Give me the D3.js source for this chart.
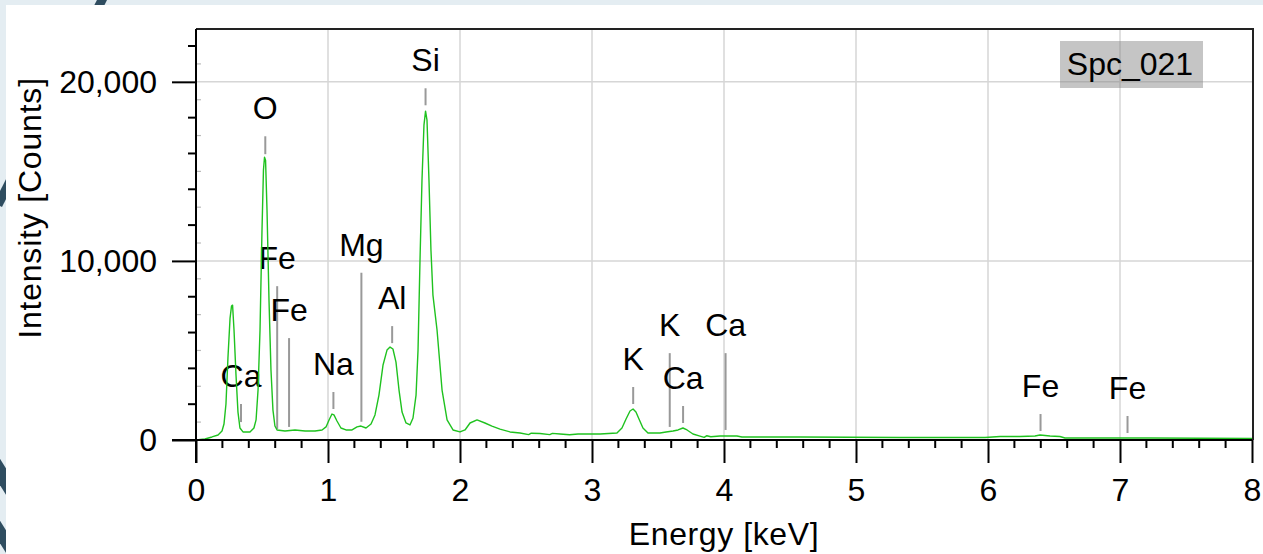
<!DOCTYPE html>
<html>
<head>
<meta charset="utf-8">
<script src="https://cdn.jsdelivr.net/npm/d3@7"></script>
<style>
  html, body { margin: 0; padding: 0; background: #e4edf2; }
  svg { display: block; }
  text { font-family: "Liberation Sans", Arial, Helvetica, sans-serif; fill: #000; }
</style>
</head>
<body>
<svg id="chart" width="1263" height="554"></svg>
<script>
// ---------------- data ----------------
const sampleName = "Spc_021";
const xTitle = "Energy [keV]";
const yTitle = "Intensity [Counts]";

const energy = [
  0.000, 0.068, 0.121, 0.167, 0.197, 0.212, 0.227, 0.242, 0.258, 0.269, 0.277, 0.288, 0.303, 0.318, 0.333, 0.356,
  0.409, 0.439, 0.455, 0.470, 0.485, 0.500, 0.511, 0.519, 0.527, 0.538, 0.553, 0.568, 0.583, 0.598, 0.614, 0.674,
  0.750, 0.826, 0.902, 0.955, 0.985, 1.008, 1.030, 1.045, 1.068, 1.098, 1.136, 1.182, 1.220, 1.250, 1.288, 1.326,
  1.356, 1.386, 1.417, 1.447, 1.470, 1.492, 1.515, 1.538, 1.561, 1.591, 1.621, 1.644, 1.667, 1.682, 1.697, 1.712,
  1.727, 1.739, 1.750, 1.765, 1.780, 1.795, 1.826, 1.864, 1.902, 1.947, 2.000, 2.038, 2.076, 2.129, 2.189, 2.242,
  2.303, 2.379, 2.455, 2.520, 2.540, 2.606, 2.680, 2.700, 2.758, 2.830, 2.894, 3.061, 3.189, 3.227, 3.258, 3.288,
  3.311, 3.333, 3.356, 3.386, 3.424, 3.515, 3.561, 3.614, 3.652, 3.689, 3.720, 3.765, 3.818, 3.850, 3.870, 3.900,
  3.970, 4.098, 4.136, 4.576, 5.333, 5.977, 6.091, 6.242, 6.356, 6.394, 6.470, 6.545, 6.583, 7.227, 8.000
];
const counts = [
     0,    55,   170,   280,   500,   890,  2010,  4580,  6810,  7480,  7530,  6140,  3630,  1560,   670,   450,
   450,   670,  1120,  2790,  6140, 11720, 15070, 15790, 15620, 12830,  7810,  3910,  1670,   780,   560,   500,
   560,   500,   500,   560,   730,  1120,  1450,  1400,  1060,   670,   560,   560,   730,   780,   670,   890,
  1400,  2510,  4190,  5020,  5190,  5080,  4350,  2790,  1560,   950,   840,  1230,  2510,  5020, 10040, 14510,
 17580, 18360, 17860, 14510, 10600,  8090,  6140,  2790,  1120,   560,   450,   560,   950,  1120,   950,   780,
   610,   450,   390,   300,   380,   360,   300,   370,   335,   290,   335,   335,   390,   670,  1170,  1620,
  1730,  1560,  1170,   670,   390,   390,   450,   500,   560,   670,   560,   335,   220,   150,   240,   180,
   220,   220,   170,   170,   140,   140,   195,   195,   225,   280,   225,   195,   110,   110,    85
];

// element markers
const peakEnergy = [0.341, 0.525, 0.615, 0.705, 1.041, 1.253, 1.486, 1.739, 3.312, 3.589, 3.690, 4.012, 6.398, 7.057];
const peakLabel  = ["Ca", "O", "Fe", "Fe", "Na", "Mg", "Al", "Si", "K", "K", "Ca", "Ca", "Fe", "Fe"];
const peakTop    = [2010, 16960, 8590, 5690, 2680, 9340, 6360, 19640, 2960, 4850, 1900, 4850, 1450, 1340];
const peakBottom = [1000, 15960,  610,  730, 1730, 1020, 5410, 18690, 2010,  730,  950,  560,  500,  390];

const xTickValues = [0, 1, 2, 3, 4, 5, 6, 7, 8];
const yTickValues = [0, 10000, 20000];
const xDomain = [0, 8];
const yDomain = [0, 22950];

// ---------------- drawing ----------------
(function () {
const svg = d3.select("#chart");
const W = 1263, H = 554;
const pLeft = 196, pRight = 1252, pTop = 29, pBottom = 440;
const FS = 32;

const x = d3.scaleLinear().domain(xDomain).range([pLeft, pRight]);
const y = d3.scaleLinear().domain(yDomain).range([pBottom, pTop]);

// page background with decorative stripes
svg.append("rect").attr("width", W).attr("height", H).attr("fill", "#e4edf2");
const deco = svg.append("g").attr("stroke", "#2f4d60").attr("fill", "none");
deco.append("line").attr("x1", 104).attr("y1", -4).attr("x2", -2).attr("y2", 205).attr("stroke-width", 9);
deco.append("line").attr("x1", -20).attr("y1", 440).attr("x2", 30).attr("y2", 520).attr("stroke-width", 14);
deco.append("line").attr("x1", -20).attr("y1", 500).attr("x2", 30).attr("y2", 580).attr("stroke-width", 12);
svg.append("rect").attr("x", 6).attr("y", 5).attr("width", W - 6).attr("height", H - 5).attr("fill", "#ffffff");

// gridlines
const grid = svg.append("g").attr("stroke", "#d6d6d6").attr("stroke-width", 1.5);
grid.selectAll("line.v").data(xTickValues.filter(d => d > 0 && d < 8)).join("line")
  .attr("class", "v")
  .attr("x1", d => x(d)).attr("x2", d => x(d)).attr("y1", pTop).attr("y2", pBottom);
grid.selectAll("line.h").data(yTickValues.filter(d => d > 0)).join("line")
  .attr("class", "h")
  .attr("y1", d => y(d)).attr("y2", d => y(d)).attr("x1", pLeft).attr("x2", x(8));

// frame top & right
svg.append("path")
  .attr("d", `M${pLeft},${pTop}H${x(8) + 1}V${pBottom}`)
  .attr("fill", "none").attr("stroke", "#222").attr("stroke-width", 2);

// inner faint minor ticks on y axis (odd thousands)
const innerY = d3.range(1000, 23000, 2000);
svg.append("g").selectAll("line").data(innerY).join("line")
  .attr("x1", pLeft).attr("x2", pLeft + 5).attr("y1", d => y(d)).attr("y2", d => y(d))
  .attr("stroke", "#bbbbbb").attr("stroke-width", 1.2);

// label box
const boxG = svg.append("g");
boxG.append("rect").attr("x", 1060).attr("y", 41).attr("width", 143).attr("height", 47)
  .attr("fill", "#808080").attr("fill-opacity", 0.46);
boxG.append("text").attr("x", 1130).attr("y", 75).attr("text-anchor", "middle")
  .attr("font-size", FS).text(sampleName);

// marker lines
const markers = svg.append("g");
markers.selectAll("line").data(peakEnergy).join("line")
  .attr("x1", d => x(d)).attr("x2", d => x(d))
  .attr("y1", (d, i) => y(peakTop[i])).attr("y2", (d, i) => y(peakBottom[i]))
  .attr("stroke", "#999999").attr("stroke-width", 2);

// spectrum
const pts = energy.map((e, i) => [e, counts[i]]);
svg.append("path").datum(pts)
  .attr("d", d3.line().x(d => x(d[0])).y(d => y(d[1])))
  .attr("fill", "none").attr("stroke", "#1fc21f").attr("stroke-width", 1.4)
  .attr("stroke-linejoin", "round");

// marker labels
markers.selectAll("text").data(peakEnergy).join("text")
  .attr("x", d => x(d)).attr("y", (d, i) => y(peakTop[i]) - 17)
  .attr("text-anchor", "middle").attr("font-size", FS)
  .text((d, i) => peakLabel[i]);

// x axis
const xAxis = d3.axisBottom(x).tickValues(xTickValues).tickSize(23).tickPadding(6)
  .tickFormat(d3.format("d"));
const gx = svg.append("g").attr("transform", `translate(0,${pBottom})`).call(xAxis);
gx.select(".domain").attr("d", `M${pLeft - 24},0H${x(8)}`).attr("stroke", "#000").attr("stroke-width", 2);
gx.selectAll(".tick line").attr("stroke", "#000").attr("stroke-width", 2);
gx.selectAll(".tick text").attr("font-size", FS).attr("font-family", null)
  .attr("y", 61).attr("dy", null).attr("fill", "#000");

const xMinor = d3.range(0.2, 8, 0.2).filter(v => Math.abs(v - Math.round(v)) > 1e-6);
svg.append("g").selectAll("line").data(xMinor).join("line")
  .attr("x1", d => x(d)).attr("x2", d => x(d)).attr("y1", pBottom).attr("y2", pBottom + 8)
  .attr("stroke", "#000").attr("stroke-width", 2);

// y axis
const yAxis = d3.axisLeft(y).tickValues(yTickValues).tickSize(24).tickPadding(15)
  .tickFormat(d3.format(","));
const gy = svg.append("g").attr("transform", `translate(${pLeft},0)`).call(yAxis);
gy.select(".domain").attr("d", `M0,${pTop}V${pBottom + 23}`).attr("stroke", "#000").attr("stroke-width", 2);
gy.selectAll(".tick line").attr("stroke", "#000").attr("stroke-width", 2);
gy.selectAll(".tick text").attr("font-size", FS).attr("font-family", null)
  .attr("dy", "0.33em").attr("fill", "#000");

const yMinor = d3.range(2000, 23000, 2000).filter(v => v % 10000 !== 0);
svg.append("g").selectAll("line").data(yMinor).join("line")
  .attr("x1", pLeft - 8).attr("x2", pLeft).attr("y1", d => y(d)).attr("y2", d => y(d))
  .attr("stroke", "#000").attr("stroke-width", 2);

// axis titles
svg.append("text").attr("x", 724).attr("y", 545).attr("text-anchor", "middle")
  .attr("font-size", FS).attr("letter-spacing", 0.6).text(xTitle);
svg.append("text").attr("transform", "translate(41,208) rotate(-90)").attr("text-anchor", "middle")
  .attr("font-size", FS).attr("letter-spacing", 0.8).text(yTitle);
})();
</script>
</body>
</html>
